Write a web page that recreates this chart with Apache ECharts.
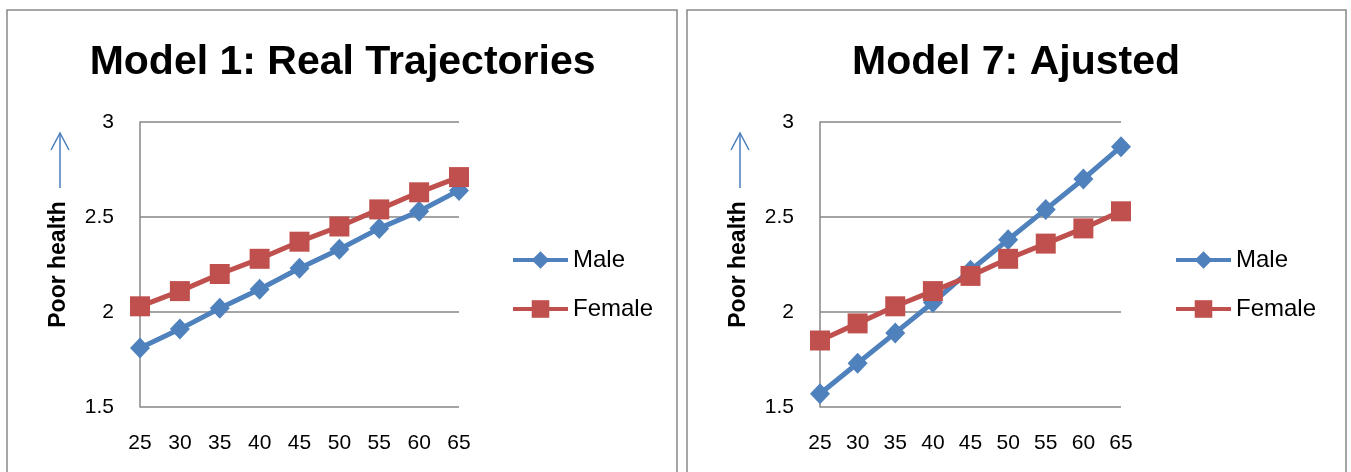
<!DOCTYPE html>
<html>
<head>
<meta charset="utf-8">
<script src="https://cdn.jsdelivr.net/npm/echarts@6/dist/echarts.min.js"></script>
<style>
html,body{margin:0;padding:0;background:#fff;}
#c{width:1351px;height:472px;}
</style>
</head>
<body>
<div id="c"></div>
<script>
var ages = ['25','30','35','40','45','50','55','60','65'];
var m1Male   = [1.81, 1.91, 2.02, 2.12, 2.23, 2.33, 2.44, 2.53, 2.64];
var m1Female = [2.03, 2.11, 2.20, 2.28, 2.37, 2.45, 2.54, 2.63, 2.71];
var m7Male   = [1.57, 1.73, 1.89, 2.05, 2.22, 2.38, 2.54, 2.70, 2.87];
var m7Female = [1.85, 1.94, 2.03, 2.11, 2.19, 2.28, 2.36, 2.44, 2.53];
var titles = ['Model 1: Real Trajectories', 'Model 7: Ajusted'];
var yTitle = 'Poor health';
var seriesNames = ['Male', 'Female'];

var FONT = '"Liberation Sans", Arial, sans-serif';
var BLUE = '#4F81BD', RED = '#C0504D', GRID = '#868686';

function xAxis(i) {
  return {
    type: 'category', gridIndex: i, data: ages, boundaryGap: false,
    axisLine: {show: false}, axisTick: {show: false},
    axisLabel: {color: '#000', fontFamily: FONT, fontSize: 21, margin: 26}
  };
}
function yAxis(i) {
  return {
    type: 'value', gridIndex: i, min: 1.5, max: 3, interval: 0.5,
    name: yTitle, nameLocation: 'middle', nameRotate: 90, nameGap: 70,
    nameTextStyle: {color: '#000', fontFamily: FONT, fontSize: 23, fontWeight: 'bold'},
    axisLine: {show: true, lineStyle: {color: GRID, width: 1.5}},
    axisTick: {show: false},
    splitLine: {show: true, lineStyle: {color: GRID, width: 1.5}},
    axisLabel: {color: '#000', fontFamily: FONT, fontSize: 21, margin: 26}
  };
}
function line(name, data, i) {
  var male = name === 'Male';
  return {
    name: name, type: 'line', xAxisIndex: i, yAxisIndex: i, data: data,
    symbol: male ? 'diamond' : 'rect', symbolSize: male ? [20, 21] : 20,
    lineStyle: {width: 5, color: male ? BLUE : RED},
    itemStyle: {color: male ? BLUE : RED},
    animation: false
  };
}
function arrow(x) {
  return [
    {type: 'line', shape: {x1: x, y1: 188, x2: x, y2: 133}, style: {stroke: '#4A7EBB', lineWidth: 1.5}},
    {type: 'polyline', shape: {points: [[x - 9, 150], [x, 133], [x + 9, 150]]}, style: {stroke: '#4A7EBB', lineWidth: 1.5, fill: null}}
  ];
}
function legend(left) {
  return {
    data: seriesNames, orient: 'vertical', left: left, top: 243, itemWidth: 55, itemHeight: 22, itemGap: 25,
    lineStyle: {width: 4}, textStyle: {color: '#000', fontFamily: FONT, fontSize: 24}, selectedMode: false
  };
}

var graphics = [
  {type: 'rect', shape: {x: 7, y: 10, width: 670, height: 480}, style: {stroke: '#888', lineWidth: 1.5, fill: null}},
  {type: 'rect', shape: {x: 687, y: 10, width: 659, height: 480}, style: {stroke: '#888', lineWidth: 1.5, fill: null}},
  {type: 'text', x: 342.6, y: 63, style: {text: titles[0], align: 'center', verticalAlign: 'middle', font: 'bold 41px ' + FONT, fill: '#000'}},
  {type: 'text', x: 1016, y: 63, style: {text: titles[1], align: 'center', verticalAlign: 'middle', font: 'bold 41px ' + FONT, fill: '#000'}}
].concat(arrow(60)).concat(arrow(740));

var chart = echarts.init(document.getElementById('c'), null, {renderer: 'canvas'});
chart.setOption({
  animation: false,
  backgroundColor: '#fff',
  grid: [
    {left: 140, top: 122, width: 319, height: 285},
    {left: 820, top: 122, width: 301, height: 285}
  ],
  xAxis: [xAxis(0), xAxis(1)],
  yAxis: [yAxis(0), yAxis(1)],
  legend: [legend(506), legend(1169)],
  series: [
    line('Male', m1Male, 0), line('Female', m1Female, 0),
    line('Male', m7Male, 1), line('Female', m7Female, 1)
  ],
  graphic: graphics
});
</script>
</body>
</html>
